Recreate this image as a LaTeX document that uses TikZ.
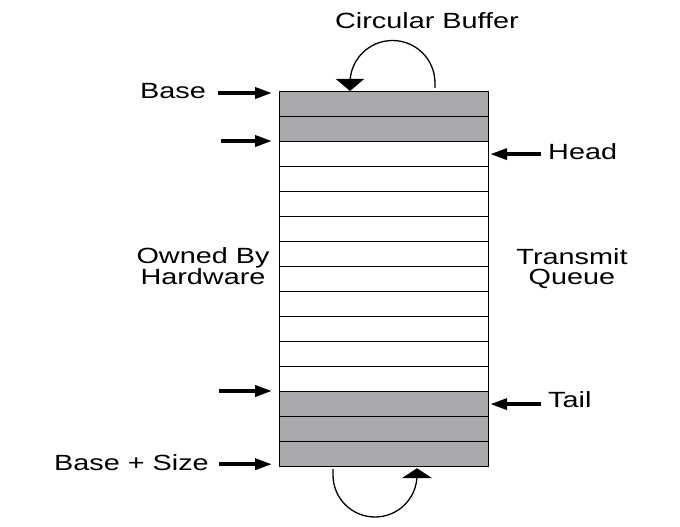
\documentclass[tikz,border=0pt]{standalone}
\usepackage{fontspec}
\setmainfont{Liberation Sans}
\newfontfamily\labfont[FakeStretch=1.31]{Liberation Sans}
\usetikzlibrary{arrows.meta}
\definecolor{cellgray}{RGB}{168,169,173}
\begin{document}
\begin{tikzpicture}[x=1pt,y=-1pt,
  lab/.style={font=\labfont\fontsize{22}{20}\selectfont, inner sep=0pt},
  cell/.style={draw, line width=1.2pt, minimum width=209pt, minimum height=25pt, inner sep=0pt, anchor=north west},
  arr/.style={line width=3.6pt, -{Triangle[length=17pt,width=11pt]}},
  looparc/.style={line width=1.3pt}]
\useasboundingbox (0,0) rectangle (680,527);
\fill[white] (0,0) rectangle (680,527);
\foreach \i/\f in {1/cellgray,2/cellgray,3/white,4/white,5/white,6/white,7/white,8/white,9/white,10/white,11/white,12/white,13/cellgray,14/cellgray,15/cellgray}
  \node[cell, fill=\f] (r\i) at (279, {91+25*(\i-1)}) {};
% labels
\node[lab] (cb) at (427,21) {Circular Buffer};
\node[lab, anchor=east] (base) at (206,91) {Base};
\node[lab, anchor=west] (head) at (548,152) {Head};
\node[lab, align=center] (own) at (203,266) {Owned By\\Hardware};
\node[lab, align=center] (tq) at (572,269) {Transmit\\Queue};
\node[lab, anchor=west] (tail) at (548,400) {Tail};
\node[lab, anchor=east] (bs) at (209,463) {Base + Size};
% straight arrows
\draw[arr] ([xshift=-61pt,yshift=-2pt]r1.north west) -- ([xshift=-7pt,yshift=-2pt]r1.north west);
\draw[arr] ([xshift=-58pt]r3.north west) -- ([xshift=-7pt]r3.north west);
\draw[arr] ([xshift=-60pt]r13.north west) -- ([xshift=-7pt]r13.north west);
\draw[arr] ([xshift=-60pt,yshift=3pt]r15.south west) -- ([xshift=-7pt,yshift=3pt]r15.south west);
\draw[arr] ([xshift=52pt]r3.east) -- ([xshift=1pt]r3.east);
\draw[arr] ([xshift=52pt]r13.east) -- ([xshift=1pt]r13.east);
% circular loops
\draw[looparc, -{Triangle[length=12pt,width=28pt]}] ([xshift=156pt,yshift=3pt]r1.north west) -- (435,83) arc[start angle=0, end angle=-180, radius=42.5] -- ([xshift=71pt]r1.north west);
\draw[looparc, -{Triangle[length=10pt,width=30pt]}] ([xshift=54pt,yshift=-2pt]r15.south west) -- (333,475) arc[start angle=180, end angle=0, radius=42] -- ([xshift=138pt,yshift=-1pt]r15.south west);
\end{tikzpicture}
\end{document}
